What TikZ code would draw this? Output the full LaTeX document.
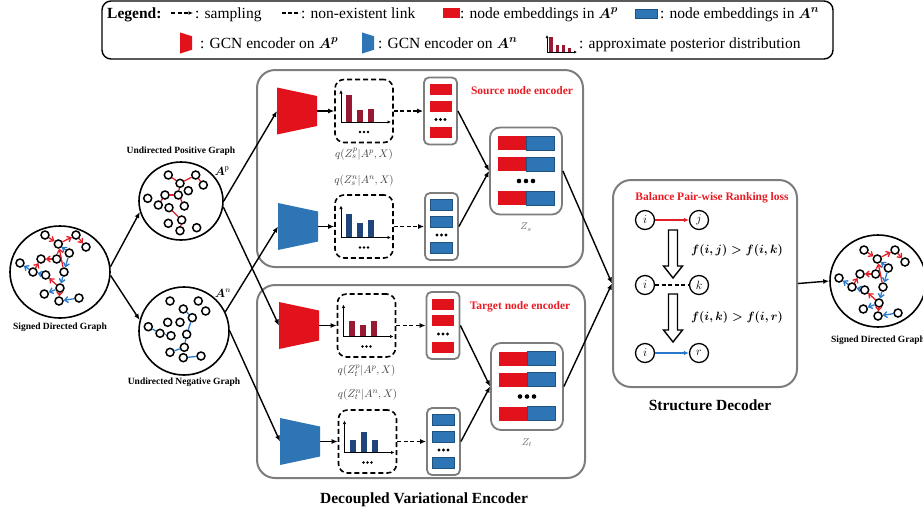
\documentclass[tikz,border=0pt]{standalone}
\usepackage{amsmath}
\usepackage{fontspec}
\setmainfont{Liberation Serif}
\usetikzlibrary{positioning,shapes.geometric,arrows.meta}

\definecolor{encred}{RGB}{226,18,28}
\definecolor{encblue}{RGB}{46,117,182}
\definecolor{barred}{RGB}{152,26,50}
\definecolor{barblue}{RGB}{31,70,122}
\definecolor{boxgray}{RGB}{125,125,125}
\definecolor{edgered}{RGB}{228,30,38}
\definecolor{edgeblue}{RGB}{40,120,205}
\definecolor{labred}{RGB}{232,28,36}

\tikzset{%
  legtext/.style={font=\fontsize{15.5}{18}\selectfont, inner sep=0pt},
  smalltitle/.style={font=\bfseries\fontsize{9.5}{11}\selectfont, inner sep=1pt},
  bigtitle/.style={font=\bfseries\fontsize{15.5}{18}\selectfont},
  redtitle/.style={font=\bfseries\fontsize{11.5}{13}\selectfont, text=labred},
  qlabel/.style={font=\fontsize{11}{13}\selectfont, text=black!75, inner sep=1pt},
  graphcirc/.style={ellipse, draw, line width=1.6pt, inner sep=0pt},
  gnode/.style={circle, draw, fill=white, line width=1.5pt, inner sep=0pt, minimum size=8pt},
  rnode/.style={circle, draw, line width=1.3pt, inner sep=0pt, minimum size=19pt, font=\fontsize{13}{15}\selectfont},
  panel/.style={draw=boxgray, line width=2pt, rounded corners=18pt},
  distbox/.style={draw, line width=1.6pt, dash pattern=on 5pt off 3pt, rounded corners=9pt, minimum width=58pt, minimum height=63pt},
  embbox/.style={draw=boxgray, line width=1.8pt, rounded corners=5pt, minimum width=33pt, minimum height=67pt},
  zbox/.style={draw=boxgray, line width=1.8pt, rounded corners=10pt, minimum width=72pt, minimum height=87pt},
  flow/.style={line width=1.4pt, -{Latex[length=6pt,width=5pt]}},
  sampling/.style={flow, dash pattern=on 4pt off 2.5pt},
  nolink/.style={line width=1.5pt, dash pattern=on 4pt off 2.5pt},
  posedge/.style={edgered, line width=1.3pt},
  negedge/.style={edgeblue, line width=1.3pt},
  posarc/.style={posedge, -{Straight Barb[length=3.5pt,width=6pt]}},
  negarc/.style={negedge, -{Straight Barb[length=3.5pt,width=6pt]}},
  embred/.style={fill=encred, draw=none},
  embblue/.style={fill=encblue, draw=encblue!70!black, line width=0.5pt},
  pics/gcn/.style={code={
    \fill[#1] (-20,-23.5) -- (20,-15) -- (20,15) -- (-20,23.5) -- cycle;
    \coordinate (-in) at (-20,0);
    \coordinate (-out) at (20,0);
  }},
  pics/hist/.style n args={4}{code={
    \fill[#1] (-18,11) rectangle (-12,{11-#2});
    \fill[#1] (-7,11) rectangle (-1,{11-#3});
    \fill[#1] (4,11) rectangle (10,{11-#4});
    \draw[line width=1pt, -{Latex[length=3.5pt,width=3.5pt]}] (-23,11) -- (-23,-21);
    \draw[line width=1pt, -{Latex[length=3.5pt,width=3.5pt]}] (-23,11) -- (27,11);
    \foreach \dx in {-4,0,4} \fill (\dx,21) circle (1.3pt);
  }},
  pics/embcol/.style={code={
    \foreach \dy in {-21.5,-5,21.5}
      \draw[#1] (-11,{\dy-5.5}) rectangle (11,{\dy+5.5});
    \foreach \dx in {-4.5,0,4.5} \fill (\dx,8.5) circle (1.6pt);
  }},
  pics/zrows/.style={code={
    \foreach \dy in {-28,-7,27} {
      \fill[encred] (-28.5,{\dy-7}) rectangle (0,{\dy+7});
      \draw[embblue] (0,{\dy-7}) rectangle (28.5,{\dy+7});
    }
    \foreach \dx in {-7,0,7} \fill (\dx,10) circle (2.3pt);
  }},
  pics/hollowdown/.style={code={
    \draw[line width=1.4pt, fill=white] (-4.5,0) -- (4.5,0) -- (4.5,36) -- (9.5,36)
      -- (0,48) -- (-9.5,36) -- (-4.5,36) -- cycle;
  }},
  pics/signed/.style={code={
    \foreach \n/\x/\y in {n1/-15/-35, n2/-1.7/-26, n3/16/-35, n4/26/-23, n5/9.3/-17,
        n6/-3.3/-11, n7/-19/-11, n8/-40/-7, n9/-27/2, n10/-14.3/5, n11/4/2,
        n12/0/18, n13/-15.7/24, n14/-1/31, n15/19/28}
      \node[gnode] (-\n) at (\x,\y) {};
    \foreach \a/\b in {n1/n2, n2/n3, n3/n4, n11/n2, n6/n7, n9/n7, n12/n10, n12/n14}
      \draw[posarc] (-\a) -- (-\b);
    \foreach \a/\b in {n5/n2, n9/n8, n10/n9, n5/n11, n11/n12, n12/n13, n15/n14}
      \draw[negarc] (-\a) -- (-\b);
  }}
}

\begin{document}
\begin{tikzpicture}[x=1pt,y=-1pt]
  \clip (0,0) rectangle (923,515);

  % legend
  \draw[line width=1.4pt, rounded corners=9pt] (102,1) rectangle (833,59);
  \node[legtext, anchor=base west] (legtitle) at (107,18) {\textbf{Legend:}};
  \coordinate (sampa) at (171,13);
  \coordinate (sampb) at (193,13);
  \draw[sampling, line width=1.3pt, -{Latex[length=4.5pt,width=4pt]}] (sampa) -- (sampb);
  \node[legtext, anchor=base west] (legsamp) at (195,18) {: sampling};
  \coordinate (nla) at (282,13);
  \coordinate (nlb) at (300,13);
  \draw[nolink, dash pattern=on 4pt off 2pt] (nla) -- (nlb);
  \node[legtext, anchor=base west] (legnon) at (301,18) {: non-existent link};
  \fill[encred] (443,8) rectangle (460,17.5);
  \node[legtext, anchor=base west] (legembp) at (460,18) {: node embeddings in $\boldsymbol{A}^{\boldsymbol{p}}$};
  \draw[embblue] (635,9) rectangle (657,18);
  \node[legtext, anchor=base west] (legembn) at (660,18) {: node embeddings in $\boldsymbol{A}^{\boldsymbol{n}}$};

  \pic[xscale=0.3, yscale=0.45] (lgcnp) at (186,43) {gcn=encred};
  \node[legtext, anchor=base west] (leggcnp) at (200,48) {: GCN encoder on $\boldsymbol{A}^{\boldsymbol{p}}$};
  \pic[xscale=0.3, yscale=0.45] (lgcnn) at (368,43) {gcn=encblue};
  \node[legtext, anchor=base west] (leggcnn) at (378,48) {: GCN encoder on $\boldsymbol{A}^{\boldsymbol{n}}$};
  \fill[barred] (549,52) rectangle (553,37);
  \fill[barred] (556,52) rectangle (559,45);
  \fill[barred] (562,52) rectangle (565,45);
  \fill[barred] (568,52) rectangle (571,48);
  \draw[line width=1pt, -{Latex[length=3pt,width=3pt]}] (547,52) -- (547,35);
  \draw[line width=1pt, -{Latex[length=3pt,width=3pt]}] (547,52) -- (577,52);
  \node[legtext, anchor=base west] (legpost) at (579,48) {: approximate posterior distribution};

  % input graphs
  \node[graphcirc, minimum width=100pt, minimum height=92pt] (sdg) at (60,272) {};
  \pic (lg) at (60,270) {signed};
  \node[smalltitle, below=3pt of sdg] (sdglab) {Signed Directed Graph};

  \node[graphcirc, minimum width=84pt, minimum height=78pt] (pg) at (181,201) {};
  \node[smalltitle, above=4pt of pg] (pglab) {Undirected Positive Graph};
  \node[font=\fontsize{12}{14}\selectfont] (pgname) at (222,171) {$\boldsymbol{A}^{\mathrm{p}}$};
  \foreach \n/\x/\y in {p1/168.3/175, p2/180/183.3, p3/195.7/175, p4/203.3/185, p5/188.3/190.7,
      p6/147.7/198.3, p7/165/195, p8/178.3/195, p9/158.3/205, p10/184.3/206,
      p11/169/207.7, p12/181.7/220, p13/168.3/223.3, p14/180/230.7, p15/196.7/227.7}
    \node[gnode] (\n) at (\x,\y) {};
  \foreach \a/\b in {p1/p2, p2/p3, p3/p4, p2/p8, p7/p8, p7/p9, p8/p10, p11/p12, p12/p14}
    \draw[posedge] (\a) -- (\b);

  \node[graphcirc, minimum width=90pt, minimum height=88pt] (ng) at (184,331) {};
  \node[smalltitle, below=1pt of ng] (nglab) {Undirected Negative Graph};
  \node[font=\fontsize{12}{14}\selectfont] (ngname) at (223,293) {$\boldsymbol{A}^{n}$};
  \foreach \n/\x/\y in {q1/170/301, q2/198.3/301, q3/205.7/311, q4/183.3/309, q5/192.3/317.7,
      q6/148.3/326.7, q7/167.7/322.3, q8/180/322.3, q9/160/333.3, q10/171/335.7,
      q11/186.7/334.3, q12/184.3/347.3, q13/170/352.3, q14/183.3/357.7, q15/201/356}
    \node[gnode] (\n) at (\x,\y) {};
  \foreach \a/\b in {q4/q5, q5/q11, q11/q12, q12/q13, q14/q15, q6/q9, q9/q10}
    \draw[negedge] (\a) -- (\b);

  \draw[flow] (sdg.6) -- (pg.195);
  \draw[flow] (sdg.-4) -- (ng.166);

  % decoupled variational encoder
  \node[panel, minimum width=326pt, minimum height=197pt] (srcpanel) at (420,168.5) {};
  \node[panel, minimum width=328pt, minimum height=193pt] (tgtpanel) at (421,381.5) {};
  \node[bigtitle] (enclab) at (424,500) {Decoupled Variational Encoder};
  \node[redtitle] (srclab) at (522,91) {Source node encoder};
  \node[redtitle] (tgtlab) at (520,307) {Target node encoder};

  % source node encoder
  \pic (sp) at (297,111) {gcn=encred};
  \node[distbox] (ds1) at (364,111) {};
  \pic at (ds1) {hist={barred}{27}{12}{13}};
  \node[qlabel, below=4pt of ds1] (qs1) {$q(Z_s^p|A^p,X)$};
  \node[embbox] (es1) at (440.5,111) {};
  \pic at (es1) {embcol=embred};

  \pic (sn) at (298,226.5) {gcn=encblue};
  \node[distbox] (ds2) at (364,226.5) {};
  \pic at (ds2) {hist={barblue}{24}{15}{18}};
  \node[qlabel, above=7pt of ds2] (qs2) {$q(Z_s^n|A^n,X)$};
  \node[embbox] (es2) at (441.5,226.5) {};
  \pic at (es2) {embcol=embblue};

  \node[zbox] (zs) at (526,171) {};
  \pic at (zs) {zrows};
  \node[below=4pt of zs, text=black!60, font=\fontsize{10}{12}\selectfont] (zslab) {$Z_s$};

  \draw[flow] (sp-out) -- (ds1.west);
  \draw[sampling] (ds1.east) -- (es1.west);
  \draw[flow] (sn-out) -- (ds2.west);
  \draw[sampling] (ds2.east) -- (es2.west);
  \draw[flow] (es1.east) -- (zs.west);
  \draw[flow] (es2.east) -- (zs.west);

  % target node encoder
  \pic (tp) at (299,325.5) {gcn=encred};
  \node[distbox] (dt1) at (366.5,325.5) {};
  \pic at (dt1) {hist={barred}{16}{12}{16}};
  \node[qlabel, below=6pt of dt1] (qt1) {$q(Z_t^p|A^p,X)$};
  \node[embbox] (et1) at (443,325.5) {};
  \pic at (et1) {embcol=embred};

  \pic (tn) at (300,441.5) {gcn=encblue};
  \node[distbox] (dt2) at (367.5,441.5) {};
  \pic at (dt2) {hist={barblue}{13}{21}{13}};
  \node[qlabel, above=8pt of dt2] (qt2) {$q(Z_t^n|A^n,X)$};
  \node[embbox] (et2) at (443.5,441.5) {};
  \pic at (et2) {embcol=embblue};

  \node[zbox] (zt) at (527,386.5) {};
  \pic at (zt) {zrows};
  \node[below=4pt of zt, text=black!60, font=\fontsize{10}{12}\selectfont] (ztlab) {$Z_t$};

  \draw[flow] (tp-out) -- (dt1.west);
  \draw[sampling] (dt1.east) -- (et1.west);
  \draw[flow] (tn-out) -- (dt2.west);
  \draw[sampling] (dt2.east) -- (et2.west);
  \draw[flow] (et1.east) -- (zt.west);
  \draw[flow] (et2.east) -- (zt.west);

  \draw[flow] (pg.east) -- (sp-in);
  \draw[flow] (pg.-8) -- (tp-in);
  \draw[flow] (ng.25) -- (sn-in);
  \draw[flow] (ng.east) -- (tn-in);

  % structure decoder
  \node[panel, minimum width=184pt, minimum height=207pt] (dec) at (705,283.5) {};
  \node[redtitle] (bprl) at (712,198) {Balance Pair-wise Ranking loss};
  \node[rnode] (di1) at (645,220) {$i$};
  \node[rnode] (dj) at (699,220) {$j$};
  \node[rnode] (di2) at (645,285) {$i$};
  \node[rnode] (dk) at (699,285) {$k$};
  \node[rnode] (di3) at (645,353) {$i$};
  \node[rnode] (dr) at (699,353) {$r$};
  \draw[edgered, line width=1.4pt, -{Latex[length=5pt,width=4.5pt]}] (di1) -- (dj);
  \draw[nolink] (di2) -- (dk);
  \draw[edgeblue, line width=1.4pt, -{Latex[length=5pt,width=4.5pt]}] (di3) -- (dr);
  \pic at (673,230) {hollowdown};
  \pic at (673,294) {hollowdown};
  \node[font=\fontsize{13}{15}\selectfont] (rank1) at (737,250) {$\boldsymbol{f(i,j) > f(i,k)}$};
  \node[font=\fontsize{13}{15}\selectfont] (rank2) at (737,317) {$\boldsymbol{f(i,k) > f(i,r)}$};
  \node[bigtitle] (declab) at (710,405) {Structure Decoder};

  \draw[flow] (zs.east) -- (dec.west);
  \draw[flow] (zt.east) -- (dec.west);

  % output graph
  \node[graphcirc, minimum width=96pt, minimum height=92pt] (sdg2) at (878,281) {};
  \pic (rg) at (879,285) {signed};
  \node[smalltitle] (sdg2lab) at (878,340) {Signed Directed Graph};
  \draw[flow] (dec.east) -- (sdg2.west);
\end{tikzpicture}
\end{document}
